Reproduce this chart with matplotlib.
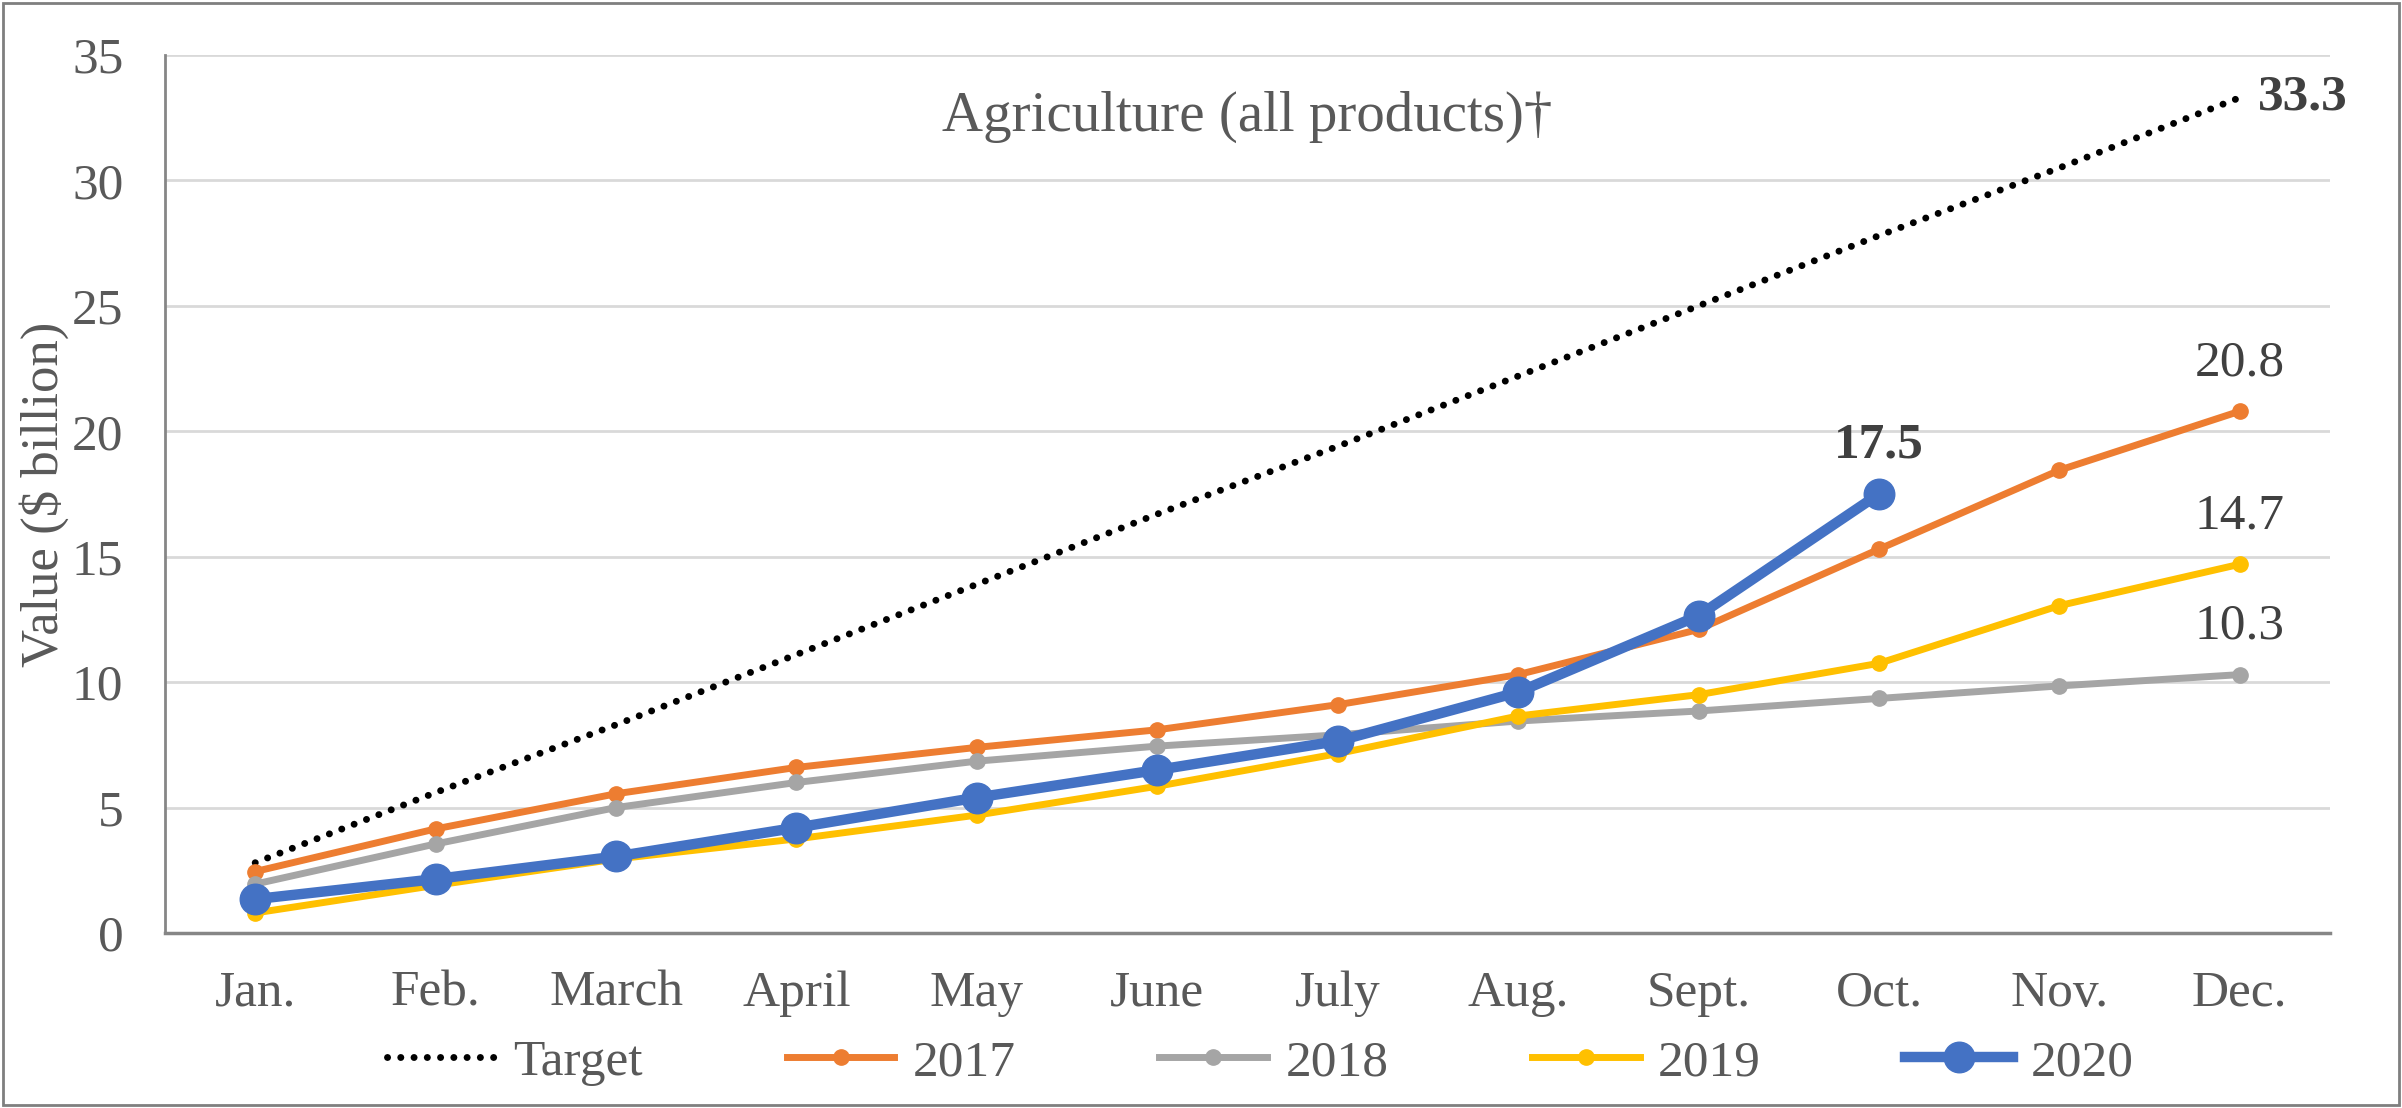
import matplotlib.pyplot as plt
from matplotlib.patches import Rectangle

# cumulative monthly values, $ billion
months = ['Jan.', 'Feb.', 'March', 'April', 'May', 'June', 'July', 'Aug.', 'Sept.', 'Oct.', 'Nov.', 'Dec.']
target = [2.8, 5.6, 8.3, 11.1, 13.9, 16.7, 19.4, 22.2, 25.0, 27.8, 30.5, 33.3]
y2017 = [2.45, 4.15, 5.55, 6.6, 7.4, 8.1, 9.1, 10.3, 12.1, 15.3, 18.45, 20.8]
y2018 = [1.95, 3.55, 5.0, 6.0, 6.85, 7.45, 7.9, 8.45, 8.85, 9.35, 9.85, 10.3]
y2019 = [0.8, 1.9, 2.95, 3.75, 4.7, 5.85, 7.15, 8.65, 9.5, 10.75, 13.05, 14.7]
y2020 = [1.35, 2.15, 3.05, 4.2, 5.4, 6.5, 7.65, 9.6, 12.65, 17.5]

plt.rcParams['font.family'] = ['Liberation Serif', 'DejaVu Serif']
text_gray = '#595959'
label_gray = '#404040'
fs = 37

fig = plt.figure(figsize=(24.02, 11.08), dpi=100)
ax = fig.add_axes([165 / 2402, 1 - 933 / 1108, (2330 - 165) / 2402, (933 - 55) / 1108])

x = list(range(len(months)))
ax.plot(x, target, color='black', linestyle=(0, (0.01, 1.9)), linewidth=5,
        dash_capstyle='round', label='Target', zorder=3)
ax.plot(x, y2017, color='#ED7D31', linewidth=5, marker='o', markersize=11, label='2017', zorder=4)
ax.plot(x, y2018, color='#A5A5A5', linewidth=5, marker='o', markersize=11, label='2018', zorder=4)
ax.plot(x, y2019, color='#FFC000', linewidth=5, marker='o', markersize=11, label='2019', zorder=4)
ax.plot(x[:len(y2020)], y2020, color='#4472C4', linewidth=7.5, marker='o', markersize=22, label='2020', zorder=5)

ax.set_xlim(-0.5, len(months) - 0.5)
ax.set_ylim(0, 35)
ax.set_yticks(range(0, 36, 5))
ax.set_xticks(x)
ax.set_xticklabels(months)
ax.tick_params(axis='both', length=0, labelsize=fs, labelcolor=text_gray)
ax.tick_params(axis='x', pad=27)
ax.tick_params(axis='y', pad=30)
ax.grid(axis='y', color='#D9D9D9', linewidth=2)
ax.set_axisbelow(True)
for side in ['top', 'right']:
    ax.spines[side].set_visible(False)
ax.spines['left'].set_color('#868686')
ax.spines['left'].set_linewidth(2)
ax.spines['bottom'].set_color('#868686')
ax.spines['bottom'].set_linewidth(2.5)

ax.set_ylabel('Value ($ billion)', fontsize=38, color=text_gray, labelpad=2)

ax.text(0.5, 0.93, 'Agriculture (all products)\u2020', transform=ax.transAxes,
        ha='center', va='center', fontsize=41, color=text_gray)

# end-point labels
ax.text(x[-1] + 0.1, target[-1], f'{target[-1]:.1f}', fontsize=fs, fontweight='bold',
        color=label_gray, ha='left', va='center')
for series in (y2017, y2019, y2018):
    ax.annotate(f'{series[-1]:.1f}', (x[-1], series[-1]), xytext=(0, 18), textcoords='offset points',
                ha='center', va='bottom', fontsize=fs, color=label_gray)
ax.annotate(f'{y2020[-1]:.1f}', (x[len(y2020) - 1], y2020[-1]), xytext=(0, 18), textcoords='offset points',
            ha='center', va='bottom', fontsize=fs, fontweight='bold', color=label_gray)

leg = ax.legend(loc='center', bbox_to_anchor=(0.506, -0.148), ncol=5, frameon=False,
                fontsize=fs, handlelength=2.1, columnspacing=2.8, handletextpad=0.35)
for t in leg.get_texts():
    t.set_color(text_gray)

fig.patches.append(Rectangle((3 / 2402, 3 / 1108), 1 - 6 / 2402, 1 - 6 / 1108,
                             transform=fig.transFigure, fill=False, edgecolor='#7F7F7F', linewidth=2))

fig.savefig('out.png', dpi=100)
